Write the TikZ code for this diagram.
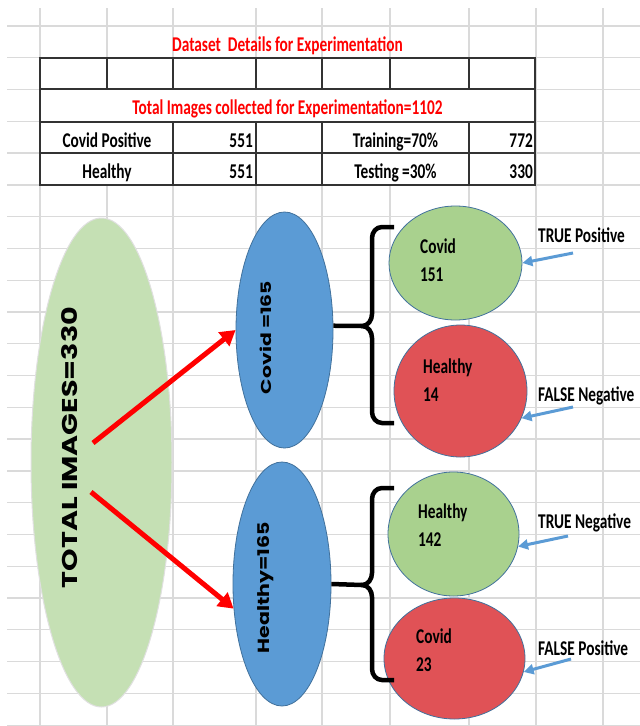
\documentclass[tikz,border=0pt]{standalone}
\usepackage{fontspec}
\usepackage{graphicx}
\setmainfont{Carlito}[FakeStretch=0.73]
\newfontfamily\ellfont{Poppins}
\usetikzlibrary{shapes.geometric,arrows.meta}
\definecolor{gridgray}{HTML}{DADADA}
\definecolor{biggreen}{HTML}{C5E0B4}
\definecolor{bluefill}{HTML}{5B9BD5}
\definecolor{blueedge}{HTML}{41719C}
\definecolor{goodgreen}{HTML}{A9D18E}
\definecolor{badred}{HTML}{E05256}

\begin{document}
\begin{tikzpicture}[x=1pt,y=-1pt,
grid/.style={draw=gridgray, line width=1.3pt},
tab/.style={draw=black!80, line width=1.6pt},
txt/.style={inner sep=0pt, font=\fontsize{21}{28.4}\selectfont\bfseries},
redtxt/.style={txt, text=red},
big/.style={ellipse, fill=biggreen, draw=black!12, line width=1pt, inner sep=0pt, minimum width=141pt, minimum height=489pt},
blu/.style={ellipse, fill=bluefill, draw=blueedge, line width=0.8pt, inner sep=0pt, minimum width=97pt},
good/.style={ellipse, fill=goodgreen, draw=blueedge, line width=0.8pt, inner sep=0pt},
bad/.style={ellipse, fill=badred, draw=blueedge, line width=0.8pt, inner sep=0pt},
rot/.style={rotate=90, inner sep=0pt, font=\ellfont\bfseries},
redarr/.style={draw=red, line width=5pt, -{Triangle[length=15pt,width=17pt]}},
bluarr/.style={draw=bluefill, line width=3pt, -{Triangle[length=10pt,width=10pt]}},
brc/.style={draw=black, line width=4.5pt}]

\useasboundingbox (0,0) rectangle (640,726);
\fill[white] (0,0) rectangle (640,726);

\foreach \gx in {40,107,173,256,322,390,469,536,603}
  \draw[grid] (\gx,8) -- (\gx,726);
\foreach \k in {0,...,22}
  \draw[grid] (7,{26+31.78*\k}) -- (640,{26+31.78*\k});

\fill[white] (40,58) rectangle (535,185);
\draw[tab] (40,58) rectangle (535,185);
\draw[tab] (40,89) -- (535,89);
\draw[tab] (40,122) -- (535,122);
\draw[tab] (40,153) -- (535,153);
\foreach \tx in {107,173,256,322,390,469}
  \draw[tab] (\tx,58) -- (\tx,89);
\foreach \tx in {173,256,322,469}
  \draw[tab] (\tx,122) -- (\tx,185);

\draw (287.5,51) node[redtxt,anchor=base] (ttl) {Dataset\ \ Details for Experimentation};
\draw (287.5,114) node[redtxt,anchor=base] (tot) {Total Images collected for Experimentation=1102};
\draw (107,147) node[txt,anchor=base] (cp) {Covid Positive};
\draw (253,147) node[txt,anchor=base east] (cpn) {551};
\draw (395.5,147) node[txt,anchor=base] (tr) {Training=70\%};
\draw (533,147) node[txt,anchor=base east] (trn) {772};
\draw (107,178) node[txt,anchor=base] (hl) {Healthy};
\draw (253,178) node[txt,anchor=base east] (hln) {551};
\draw (395.5,178) node[txt,anchor=base] (ts) {Testing =30\%};
\draw (533,178) node[txt,anchor=base east] (tsn) {330};

\draw (101.5,462.5) node[big] (all) {};
\draw (70,447.5) node[rot] (allt) {\resizebox{281pt}{16pt}{TOTAL IMAGES=330}};
\draw (284.5,330) node[blu,minimum height=236pt] (cov) {};
\draw (265.5,337.5) node[rot] (covt) {\resizebox{113pt}{11.5pt}{Covid =165}};
\draw (282,584) node[blu,minimum width=98pt,minimum height=244pt] (hea) {};
\draw (266,587.5) node[rot] (heat) {\resizebox{131pt}{12pt}{Healthy=165}};

\draw (455.5,263) node[good,minimum width=133pt,minimum height=114pt] (tpc) {};
\draw (460.5,391) node[bad,minimum width=133pt,minimum height=132pt] (fnc) {};
\draw (453.5,534) node[good,minimum width=131pt,minimum height=124pt] (tnc) {};
\draw (454.5,658.5) node[bad,minimum width=141pt,minimum height=121pt] (fpc) {};

\draw (420,281.7) node[txt,align=left,anchor=base west] (tpt) {Covid\\151};
\draw (423,401.7) node[txt,align=left,anchor=base west] (fnt) {Healthy\\14};
\draw (418,546.7) node[txt,align=left,anchor=base west] (tnt) {Healthy\\142};
\draw (416,671.7) node[txt,align=left,anchor=base west] (fpt) {Covid\\23};

\draw (538,242) node[txt,anchor=base west] (tp) {TRUE Positive};
\draw (538,401) node[txt,anchor=base west] (fn) {FALSE Negative};
\draw (538,528) node[txt,anchor=base west] (tn) {TRUE Negative};
\draw (538,655) node[txt,anchor=base west] (fp) {FALSE Positive};

\coordinate (a1) at (93,443);
\coordinate (a2) at (91,492);
\draw[redarr] (a1) -- (cov.west);
\draw[redarr] (a2) -- (hea.207);

\coordinate (cusp1) at (362,326);
\coordinate (cusp2) at (362,585);
\draw[brc] (cov.5) -- (cusp1);
\draw[brc] (hea.east) -- (cusp2);
\draw[brc] (394,227) -- (382,227) to[out=180,in=90] (372,238) -- (372,314)
  to[out=-90,in=0] (cusp1) to[out=0,in=90] (372,338) -- (372,412)
  to[out=-90,in=180] (382,423) -- (394,423);
\draw[brc] (394,488) -- (382,488) to[out=180,in=90] (372,499) -- (372,573)
  to[out=-90,in=0] (cusp2) to[out=0,in=90] (372,597) -- (372,669)
  to[out=-90,in=180] (382,680) -- (394,680);

\coordinate (b1) at (573,253);
\coordinate (b2) at (573,407);
\coordinate (b3) at (568,536);
\coordinate (b4) at (571,659);
\draw[bluarr] (b1) -- (tpc.east);
\draw[bluarr] (b2) -- (fnc.336);
\draw[bluarr] (b3) -- (tnc.349);
\draw[bluarr] (b4) -- (fpc.349);

\end{tikzpicture}
\end{document}
